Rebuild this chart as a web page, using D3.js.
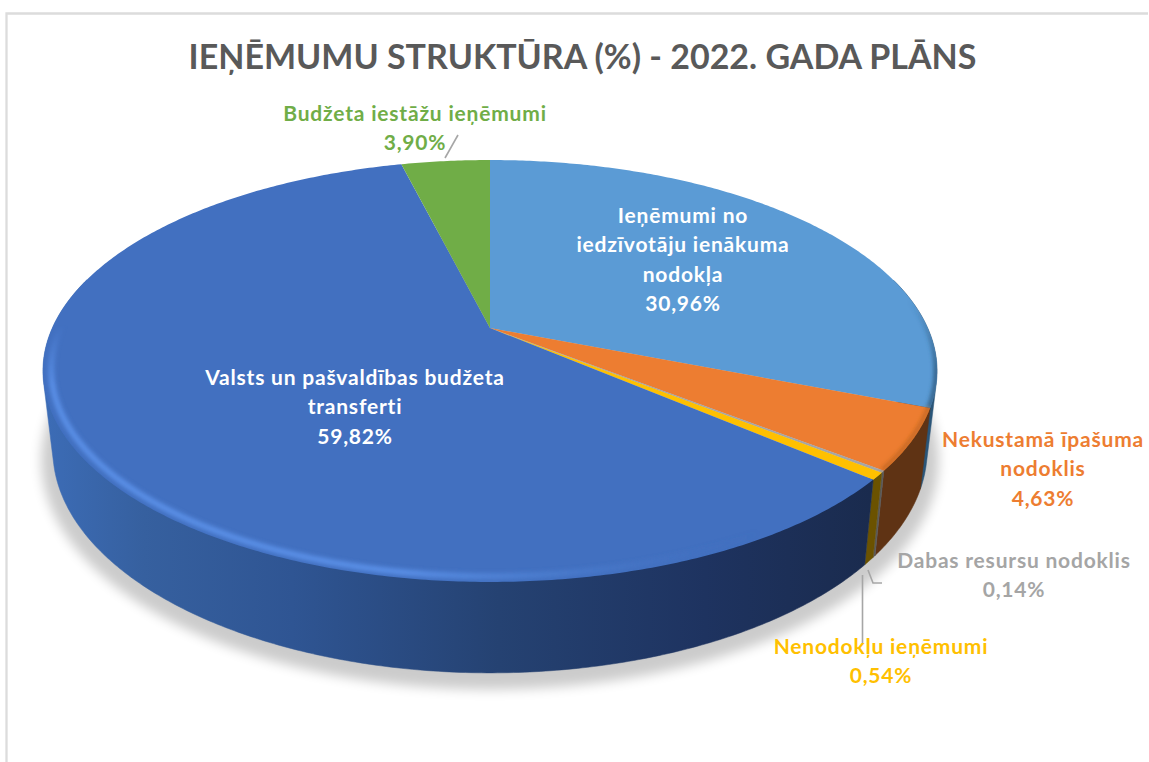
<!DOCTYPE html>
<html><head><meta charset="utf-8">
<script src="https://cdn.jsdelivr.net/npm/d3@7"></script>
<style>html,body{margin:0;padding:0;background:#fff}svg{display:block}text{font-family:Lato,"Open Sans",sans-serif;font-weight:700}</style>
</head><body><svg id="c" width="1149" height="762"></svg>
<script>
const categories=["Ieņēmumi no iedzīvotāju ienākuma nodokļa","Nekustamā īpašuma nodoklis","Dabas resursu nodoklis","Nenodokļu ieņēmumi","Valsts un pašvaldības budžeta transferti","Budžeta iestāžu ieņēmumi"];
const values=[30.96,4.63,0.14,0.54,59.82,3.90];
const valueLabels=["30,96%","4,63%","0,14%","0,54%","59,82%","3,90%"];
const title="IEŅĒMUMU STRUKTŪRA (%) - 2022. GADA PLĀNS";

const topColors=["#5b9bd5","#ed7d31","#a5a5a5","#ffc000","#4270c0","#70ad47"];
const sideColors=["#2a5578","#5f3314","#5a5a5a","#6b5200","url(#blueSide)","#3f6428"];
const labelColors=["#fff","#ed7d31","#a5a5a5","#ffc000","#fff","#70ad47"];
const labelLines=[["Ieņēmumi no","iedzīvotāju ienākuma","nodokļa"],["Nekustamā īpašuma","nodoklis"],["Dabas resursu nodoklis"],["Nenodokļu ieņēmumi"],["Valsts un pašvaldības budžeta","transferti"],["Budžeta iestāžu ieņēmumi"]];
const labelPos=[[683,216],[1043,440],[1014,561],[881,647],[355,378],[415,114]];
const lineH=29.3;
const leaders=[[[458,135],[445,158]],[[862.5,575],[862.5,643]],[[868,570],[873,583],[882,583]]];

const svg=d3.select("#c");
const defs=svg.append("defs");
const blur=(id,s)=>defs.append("filter").attr("id",id).attr("x","-20%").attr("y","-20%").attr("width","140%").attr("height","140%").append("feGaussianBlur").attr("stdDeviation",s);
blur("sh",6);blur("b2",2.2);
const g1=defs.append("linearGradient").attr("id","blueSide").attr("gradientUnits","userSpaceOnUse").attr("x1",45).attr("x2",870).attr("y1",0).attr("y2",0);
[[0,"#3c6cb6"],[.12,"#36609f"],[.3,"#2f5593"],[.55,"#254272"],[.8,"#1e3360"],[1,"#1a2b4e"]].forEach(d=>g1.append("stop").attr("offset",d[0]).attr("stop-color",d[1]));
const g2=defs.append("linearGradient").attr("id","rimBlue").attr("gradientUnits","userSpaceOnUse").attr("x1",45).attr("x2",760).attr("y1",0).attr("y2",0);
[[0,"#5a8fe6",1],[.5,"#5a8fe6",1],[.72,"#4f82d4",.6],[1,"#4270c0",0]].forEach(d=>g2.append("stop").attr("offset",d[0]).attr("stop-color",d[1]).attr("stop-opacity",d[2]));
const g3=defs.append("linearGradient").attr("id","fadeV").attr("gradientUnits","userSpaceOnUse").attr("x1",0).attr("x2",0).attr("y1",325).attr("y2",385);
[[0,"#000"],[1,"#fff"]].forEach(d=>g3.append("stop").attr("offset",d[0]).attr("stop-color",d[1]));
defs.append("mask").attr("id","rimMask").attr("maskUnits","userSpaceOnUse").attr("x",0).attr("y",0).attr("width",1149).attr("height",762)
  .append("rect").attr("width",1149).attr("height",762).attr("fill","url(#fadeV)");
const g4=defs.append("linearGradient").attr("id","fadeR").attr("gradientUnits","userSpaceOnUse").attr("x1",0).attr("x2",0).attr("y1",300).attr("y2",370);
[[0,"#2a5578",0],[1,"#2a5578",1]].forEach(d=>g4.append("stop").attr("offset",d[0]).attr("stop-color",d[1]).attr("stop-opacity",d[2]));

// perspective disc projection: level 0 = top face, level 1 = bottom face
const cx=490,k=0.2038;
const levels=[{y0:328,a:437.7,b:202.2},{y0:404.5,a:428,b:213.7}];
function proj(angle,r,lv){const L=levels[lv],u=r*Math.sin(angle),v=-r*Math.cos(angle),w=1-k*v;return [cx+L.a*u/w,L.y0+L.b*v/w];}
function samples(a0,a1,r,lv){const n=Math.max(2,Math.ceil((a1-a0)/0.01));return d3.range(n+1).map(i=>proj(a0+(a1-a0)*i/n,r,lv));}
const line=d3.line();

const pie=d3.pie().sort(null).startAngle(0).endAngle(2*Math.PI);
const arcs=pie(values);

// frame
svg.append("path").attr("d",line([[6.5,762],[6.5,13.5],[1148,13.5]])).attr("fill","none").attr("stroke","#dcdcdc").attr("stroke-width",2.3);

// shadow
svg.append("path").attr("d",line(samples(0,2*Math.PI,1.025,1))+"Z").attr("transform","translate(0,8)").attr("fill","#000").attr("opacity",.2).attr("filter","url(#sh)");

// visible side: the hull of both rims gives the straight silhouette between top and bottom discs
const visA0=Math.PI*0.42, visA1=Math.PI*1.58;
arcs.forEach((d,i)=>{
  const a0=Math.max(d.startAngle,visA0),a1=Math.min(d.endAngle,visA1);
  if(a1<=a0)return;
  const hull=d3.polygonHull(samples(a0,a1,1,0).concat(samples(a0,a1,1,1)));
  svg.append("path").attr("d",line(hull)+"Z").attr("fill",sideColors[i]).attr("stroke",sideColors[i]).attr("stroke-width",.5);
});

// top face
arcs.forEach((d,i)=>{
  const pts=[proj(0,0,0)].concat(samples(d.startAngle,d.endAngle,1,0));
  svg.append("path").attr("d",line(pts)+"Z").attr("fill",topColors[i]);
});
// bevel
defs.append("clipPath").attr("id","topClip").append("path").attr("d",line(samples(0,2*Math.PI,1,0))+"Z");
const rim=svg.append("g").attr("clip-path","url(#topClip)");
const bl=arcs[4];
rim.append("g").attr("mask","url(#rimMask)").append("path").attr("d",line(samples(bl.startAngle+.02,Math.PI*1.6,.982,0))).attr("fill","none").attr("stroke","url(#rimBlue)").attr("stroke-width",6).attr("filter","url(#b2)");
const inc=arcs[0];
rim.append("path").attr("d",line(samples(Math.PI*.38,inc.endAngle,.998,0))).attr("fill","none").attr("stroke","url(#fadeR)").attr("stroke-width",4).attr("filter","url(#b2)");
const or=arcs[1];
rim.append("path").attr("d",line(samples(or.startAngle,or.endAngle,.996,0))).attr("fill","none").attr("stroke","#b5601f").attr("stroke-width",3).attr("filter","url(#b2)");

// leaders
leaders.forEach(p=>svg.append("path").attr("d",line(p)).attr("fill","none").attr("stroke","#a6a6a6").attr("stroke-width",1.6));

// title
svg.append("text").attr("x",582.5).attr("y",68.5).attr("text-anchor","middle").attr("font-size",34).attr("fill","#595959").text(title);

// labels
arcs.forEach((d,i)=>{
  const [x,y]=labelPos[i];
  const t=svg.append("text").attr("text-anchor","middle").attr("font-size",21).attr("letter-spacing",.8).attr("fill",labelColors[i]);
  labelLines[i].concat(valueLabels[i]).forEach((s,j)=>t.append("tspan").attr("x",x).attr("y",y+7+j*lineH).text(s));
});
</script></body></html>
